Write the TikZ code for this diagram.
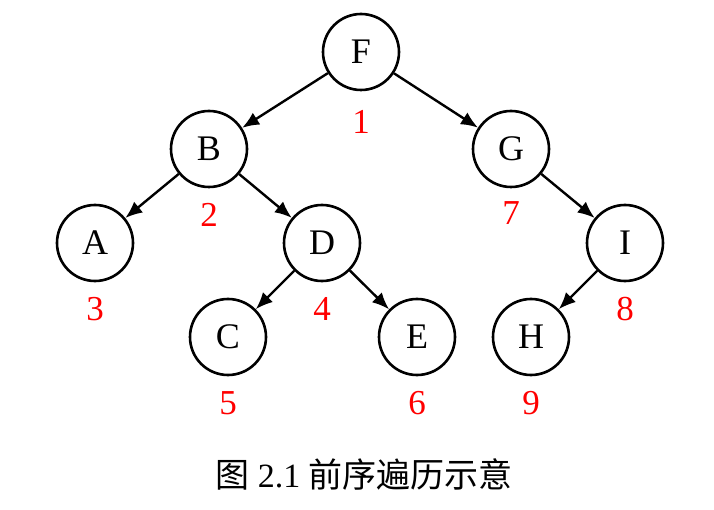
\documentclass[tikz,border=0pt]{standalone}
\usepackage{fontspec}
\setmainfont{Liberation Serif}
\newfontfamily\cjk{Noto Sans CJK SC}
\usetikzlibrary{arrows.meta,positioning}

\begin{document}
\begin{tikzpicture}[
  x=1pt, y=-1pt,
  vert/.style={draw, circle, line width=2.6pt, minimum size=76pt, inner sep=0pt, font=\fontsize{36}{38}\selectfont},
  ord/.style={text=red, font=\fontsize{35}{37}\selectfont},
  arr/.style={-{Latex[length=17pt,width=14pt]}, line width=2.4pt}
]
\useasboundingbox (0,0) rectangle (714,510);
% tree nodes
\node[vert] (f) at (361,52) {F};
\node[vert] (b) at (209,149) {B};
\node[vert] (g) at (511,149) {G};
\node[vert] (a) at (95,243) {A};
\node[vert] (d) at (322,243) {D};
\node[vert] (i) at (625,243) {I};
\node[vert] (c) at (228,337) {C};
\node[vert] (e) at (417,337) {E};
\node[vert] (h) at (531,337) {H};
% visiting order
\node[ord] (n1) at (361,122) {1};
\node[ord] (n2) at (209,215) {2};
\node[ord] (n7) at (511,213) {7};
\node[ord] (n3) at (95,309) {3};
\node[ord] (n4) at (322,309) {4};
\node[ord] (n8) at (625,309) {8};
\node[ord] (n5) at (228,403) {5};
\node[ord] (n6) at (417,403) {6};
\node[ord] (n9) at (531,403) {9};
\draw[arr] (f) -- (b);
\draw[arr] (f) -- (g);
\draw[arr] (b) -- (a);
\draw[arr] (b) -- (d);
\draw[arr] (d) -- (c);
\draw[arr] (d) -- (e);
\draw[arr] (g) -- (i);
\draw[arr] (i) -- (h);
\node[font=\fontsize{34}{36}\selectfont] (cap) at (364,474) {{\cjk 图} 2.1 {\cjk 前序遍历示意}};
\end{tikzpicture}
\end{document}
